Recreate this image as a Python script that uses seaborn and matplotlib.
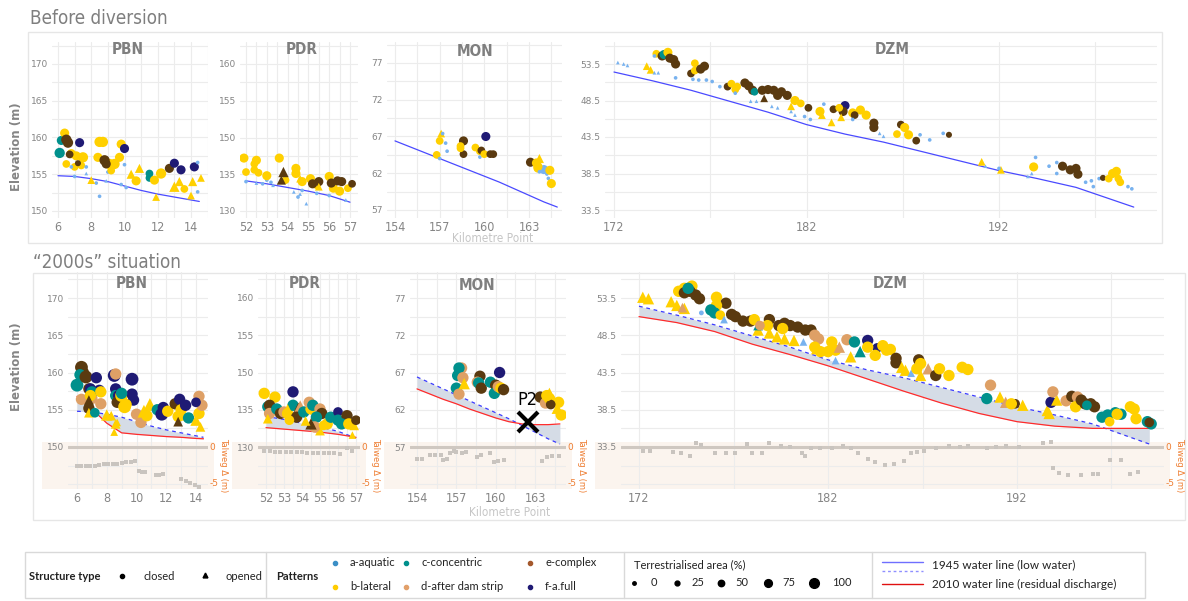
import matplotlib
matplotlib.use("Agg")
import matplotlib.pyplot as plt
import seaborn as sns
import pandas as pd
from matplotlib.ticker import MultipleLocator, FixedLocator
from matplotlib.patches import Rectangle

# -------------------------------
# DATA
# point = (kilometre point, elevation, code)  code = pattern letter, c/o structure, area class 0..4
# -------------------------------
pbn_before = [(6.1, 157.9, "cc4"), (6.2, 159.6, "cc3"), (6.4, 160.6, "bc3"), (6.5, 159.7, "ec4"), (6.6, 159.3, "ec4"),
              (7.3, 159.3, "fc3"), (6.8, 157.8, "bc3"), (7.1, 157.5, "bc3"), (7.5, 157.3, "bc4"), (6.5, 156.4, "bc2"),
              (7.4, 156.2, "bc2"), (7.0, 156.0, "bc2"), (6.7, 157.7, "ec2"), (7.2, 156.5, "ec1"), (6.8, 156.0, "ac0"),
              (7.0, 154.7, "ac0"), (7.7, 155.1, "ao0"), (8.3, 153.8, "ac0"), (8.5, 152.0, "ac0"), (7.7, 156.0, "ac0"),
              (8.9, 154.1, "ao0"), (9.0, 155.3, "ac0"), (8.5, 159.4, "bc4"), (8.7, 159.4, "bc4"), (8.4, 157.3, "bc3"),
              (9.1, 156.4, "bc4"), (9.4, 156.4, "bc4"), (9.7, 157.3, "bc3"), (9.2, 155.5, "bc2"), (8.8, 156.9, "ec4"),
              (8.9, 156.4, "ec3"), (9.8, 159.1, "bc3"), (10.0, 158.5, "fc3"), (10.9, 155.8, "bo3"), (10.4, 155.0, "bo3"),
              (10.7, 154.1, "bc3"), (8.0, 154.2, "bo2"), (11.5, 155.1, "cc2"), (11.5, 154.5, "cc2"), (11.8, 154.2, "bc3"),
              (12.2, 155.1, "bc4"), (11.9, 151.9, "bo2"), (12.7, 155.8, "ec3"), (13.0, 156.5, "fc3"), (13.4, 155.6, "fc3"),
              (14.2, 156.0, "fc3"), (13.0, 153.3, "bo4"), (13.3, 154.0, "bo3"), (14.0, 152.1, "bo2"), (14.1, 154.0, "bo3"),
              (14.6, 154.5, "bo2"), (13.6, 153.0, "bc2"), (14.4, 156.6, "ac0"), (14.4, 152.6, "ac0"), (10.0, 156.3, "ac0"),
              (10.1, 153.2, "ac0"), (9.8, 153.6, "ac0")]

pdr_before = [(51.9, 137.2, "bc3"), (52.0, 135.3, "bc2"), (52.4, 135.6, "bc2"), (52.5, 136.9, "bc3"), (52.4, 136.4, "bc2"),
              (52.6, 135.2, "bc2"), (52.0, 134.0, "ac0"), (52.5, 133.8, "ao0"), (52.8, 133.7, "ac0"), (53.0, 134.2, "ac0"),
              (53.3, 133.5, "ao0"), (53.9, 134.0, "ac0"), (54.3, 132.6, "ao0"), (54.5, 131.9, "ac0"), (54.9, 131.0, "ao0"),
              (54.7, 132.8, "ac0"), (55.4, 132.4, "ac0"), (56.0, 132.1, "ac0"), (56.8, 131.5, "ao0"), (53.2, 133.9, "ac0"),
              (54.6, 132.3, "ao0"), (53.0, 134.8, "bc3"), (53.6, 137.2, "bc3"), (53.9, 134.2, "bc2"), (54.4, 135.8, "bc3"),
              (54.4, 135.1, "bc3"), (54.7, 134.0, "bc3"), (55.1, 134.4, "bc3"), (55.4, 133.5, "bc2"), (56.0, 134.7, "bc3"),
              (56.2, 133.1, "bc3"), (56.5, 132.7, "bc3"), (56.9, 133.1, "bc2"), (53.8, 135.3, "eo4"), (53.7, 134.2, "eo3"),
              (55.2, 133.7, "ec3"), (55.5, 134.0, "ec3"), (56.1, 133.8, "ec3"), (56.4, 134.1, "ec3"), (56.6, 134.0, "ec3"),
              (57.1, 133.7, "ec2"), (54.6, 134.4, "bo2"), (55.5, 133.3, "bo2")]

mon_before = [(156.8, 64.5, "bc2"), (157.0, 66.4, "bc2"), (157.1, 67.4, "bo2"), (157.2, 67.4, "ac0"), (157.4, 66.1, "ac0"),
              (157.5, 65.0, "ac0"), (157.0, 64.0, "ac0"), (158.6, 66.4, "ec3"), (158.6, 64.6, "ec2"), (158.4, 65.7, "bc2"),
              (158.4, 65.4, "bc2"), (159.4, 65.5, "bc2"), (159.7, 65.0, "bc2"), (159.8, 65.1, "ec2"), (159.7, 64.2, "ac0"),
              (160.0, 64.6, "bc2"), (160.4, 64.6, "ec2"), (160.6, 64.6, "ec2"), (160.1, 67.0, "fc3"), (163.1, 63.5, "ec3"),
              (163.5, 63.4, "bc3"), (163.7, 64.0, "bo3"), (163.6, 62.7, "bc3"), (164.0, 62.5, "ac3"), (164.2, 61.9, "ac0"),
              (164.3, 61.3, "ac0"), (164.4, 62.4, "bc3"), (164.5, 60.6, "bc3"), (163.6, 62.9, "bc3"), (163.7, 62.2, "ac0")]

dzm_before = [(172.2, 53.7, "ao0"), (172.5, 53.5, "ao0"), (172.7, 53.3, "ao0"), (173.7, 53.2, "bo2"), (173.9, 52.7, "bo2"),
              (174.1, 52.3, "ao0"), (174.3, 52.3, "ao0"), (174.2, 54.9, "bc2"), (174.5, 54.6, "ec3"), (174.6, 54.8, "cc3"),
              (174.8, 55.1, "bc3"), (174.9, 54.3, "ec3"), (175.1, 54.1, "ec3"), (175.2, 53.5, "ec3"), (174.1, 54.6, "ac0"),
              (175.2, 51.6, "ac0"), (176.0, 52.2, "ec2"), (176.2, 53.6, "bc2"), (176.2, 52.6, "bc2"), (176.5, 52.8, "ec3"),
              (176.7, 53.2, "ec3"), (176.1, 51.4, "ac0"), (176.4, 51.3, "ac0"), (176.8, 51.3, "ac0"), (177.1, 51.1, "ac0"),
              (177.5, 50.4, "ac0"), (177.9, 50.4, "ec2"), (178.1, 50.8, "bc2"), (178.3, 50.0, "bc2"), (178.3, 49.5, "ac0"),
              (178.4, 50.4, "bc2"), (178.8, 50.9, "ec3"), (179.0, 50.5, "ec3"), (179.2, 49.9, "ec3"), (179.3, 49.7, "cc2"),
              (179.7, 49.9, "ec3"), (180.0, 50.0, "ec3"), (180.3, 49.9, "ec3"), (180.5, 49.2, "ec3"), (180.7, 49.7, "ec3"),
              (181.0, 49.2, "ec3"), (179.8, 48.8, "eo2"), (179.1, 48.4, "ao0"), (179.4, 48.4, "ao0"), (180.2, 47.7, "ao0"),
              (180.5, 47.5, "ao0"), (181.4, 48.5, "bc3"), (181.7, 48.1, "bc2"), (181.2, 47.7, "bo2"), (181.2, 47.0, "ao0"),
              (181.4, 46.5, "ao0"), (181.9, 46.3, "ac0"), (182.2, 45.9, "ac0"), (182.1, 47.5, "ec2"), (182.7, 47.0, "bc3"),
              (182.8, 46.5, "bo2"), (182.9, 48.0, "ac0"), (183.4, 47.3, "ec2"), (184.0, 47.8, "fc3"), (183.9, 47.0, "ec3"),
              (183.7, 47.5, "bc2"), (183.3, 45.5, "bo2"), (183.8, 46.2, "bo2"), (184.4, 46.8, "bc3"), (184.8, 47.2, "bc3"),
              (185.1, 46.5, "bc3"), (184.5, 46.5, "ec2"), (184.4, 45.9, "ac0"), (185.5, 45.4, "ec3"), (185.5, 44.8, "ec3"),
              (185.8, 44.0, "ao0"), (186.0, 43.6, "ao0"), (186.9, 45.2, "ec2"), (187.1, 44.8, "bc3"), (187.3, 43.8, "bc3"),
              (186.7, 43.9, "bc2"), (187.7, 43.0, "ec2"), (187.9, 43.8, "ac0"), (188.4, 43.1, "ac0"), (189.1, 44.0, "ac0"),
              (189.4, 43.8, "ec1"), (191.1, 40.1, "bo2"), (191.3, 39.5, "ao0"), (192.1, 39.0, "bo2"), (192.0, 39.2, "ac0"),
              (193.5, 38.1, "ao0"), (193.7, 38.5, "ao0"), (193.8, 39.4, "bc3"), (193.9, 40.7, "ac0"), (194.6, 39.5, "ac0"),
              (195.0, 40.0, "ac0"), (195.3, 39.8, "ac0"), (195.0, 38.5, "ac0"), (195.3, 39.5, "ec3"), (195.7, 39.0, "ec3"),
              (196.0, 39.2, "ec3"), (196.1, 38.4, "ec3"), (196.5, 37.3, "ac0"), (196.8, 37.5, "ac0"), (196.9, 36.7, "ac0"),
              (197.2, 37.8, "ac0"), (197.4, 37.9, "ec1"), (197.7, 37.8, "bc2"), (197.9, 38.5, "bc3"), (198.1, 38.8, "bc3"),
              (198.2, 37.8, "bc2"), (198.3, 37.3, "bc2"), (198.7, 36.7, "ac0"), (198.9, 36.4, "ac0")]

pbn_after = [(6.0, 158.3, "cc4"), (6.3, 160.7, "ec4"), (6.4, 159.9, "ec4"), (6.2, 159.7, "cc3"), (6.6, 159.4, "ec4"),
             (6.3, 156.4, "dc3"), (7.0, 156.5, "dc3"), (6.8, 157.8, "ec3"), (6.8, 155.2, "ec3"), (7.3, 159.3, "fc3"),
             (6.9, 157.8, "fc3"), (7.5, 157.6, "fc3"), (7.0, 157.4, "cc3"), (7.6, 157.4, "bc3"), (6.9, 156.9, "bc3"),
             (7.6, 155.8, "dc3"), (6.8, 156.3, "eo2"), (6.8, 154.6, "bo2"), (8.0, 154.3, "bo3"), (8.6, 153.1, "bo2"),
             (8.5, 152.0, "bo1"), (8.5, 159.6, "fc4"), (8.6, 157.8, "fc3"), (8.6, 159.8, "dc3"), (8.6, 156.9, "cc3"),
             (8.8, 156.9, "fc3"), (8.7, 156.0, "ec3"), (9.0, 156.9, "bc4"), (9.2, 155.4, "bc4"), (9.7, 159.1, "fc4"),
             (9.7, 157.1, "fc3"), (9.8, 156.3, "fc3"), (9.3, 155.7, "bc3"), (9.0, 157.2, "cc3"), (10.0, 154.4, "dc3"),
             (10.3, 153.3, "dc3"), (10.5, 154.8, "bo4"), (10.9, 155.7, "bo4"), (10.7, 154.2, "bc3"), (11.4, 155.0, "cc3"),
             (11.7, 154.4, "fc4"), (11.8, 155.3, "fc3"), (12.1, 154.8, "bc3"), (12.6, 155.8, "ec3"), (12.9, 156.4, "fc3"),
             (13.0, 155.0, "bc3"), (13.1, 154.3, "bo3"), (13.3, 155.6, "fc3"), (12.8, 154.1, "bc3"), (12.8, 153.4, "eo2"),
             (13.5, 153.9, "cc3"), (14.0, 153.6, "bo3"), (14.2, 154.5, "bc3"), (14.2, 156.8, "dc3"), (14.4, 155.6, "dc3"),
             (14.0, 156.0, "fc2"), (14.3, 152.7, "bo2"), (8.3, 154.2, "bo2"), (8.7, 153.3, "bo1"), (7.2, 154.6, "cc2")]

pdr_after = [(51.9, 137.2, "bc3"), (52.5, 136.7, "bc3"), (52.1, 135.4, "cc3"), (52.2, 135.6, "ec3"), (52.2, 134.5, "dc3"),
             (52.1, 133.8, "bo2"), (52.6, 135.1, "cc3"), (52.8, 134.5, "ec3"), (53.0, 134.7, "dc3"), (53.2, 134.5, "bc3"),
             (53.5, 137.4, "fc3"), (53.5, 135.6, "cc3"), (53.2, 135.0, "bo3"), (53.8, 135.1, "eo4"), (53.9, 135.4, "do4"),
             (53.7, 134.0, "ec3"), (54.1, 134.7, "cc3"), (54.5, 135.1, "bc3"), (54.4, 136.0, "dc3"), (54.6, 135.6, "cc3"),
             (55.0, 135.1, "dc3"), (55.1, 134.5, "ec3"), (54.8, 134.0, "cc3"), (55.4, 133.1, "bc3"), (55.0, 132.2, "bo2"),
             (55.6, 134.0, "cc3"), (56.0, 134.7, "fc2"), (56.0, 133.6, "cc3"), (56.5, 134.2, "ec3"), (56.2, 133.1, "cc3"),
             (56.6, 133.1, "bc3"), (56.9, 132.9, "bo2"), (57.0, 133.6, "ec2"), (56.8, 131.6, "bo1"), (54.7, 132.7, "dc3"),
             (54.5, 133.1, "eo3"), (53.3, 133.6, "bc2"), (55.2, 132.9, "bc2"), (54.2, 133.5, "bo2")]

mon_after = [(157.0, 64.9, "cc3"), (157.2, 64.1, "dc3"), (157.1, 66.6, "cc3"), (157.4, 67.6, "dc3"), (157.2, 67.6, "cc3"),
             (157.5, 66.3, "dc3"), (157.6, 65.5, "bo3"), (158.8, 66.5, "ec3"), (158.6, 65.7, "dc3"), (158.7, 65.6, "cc3"),
             (158.9, 64.9, "ec3"), (160.3, 67.0, "fc3"), (159.6, 65.7, "cc3"), (160.0, 65.3, "ec3"), (159.9, 64.2, "cc3"),
             (160.2, 65.1, "dc3"), (160.4, 64.9, "bc3"), (160.6, 64.7, "ec3"), (163.4, 63.7, "ec3"), (164.1, 64.2, "bo3"),
             (163.8, 62.9, "dc3"), (164.1, 63.5, "bc3"), (164.4, 63.3, "bo3"), (164.8, 63.0, "bc3"), (164.2, 62.7, "ec2"),
             (165.0, 61.3, "bc3"), (164.7, 62.2, "bo3"), (163.9, 63.9, "bc3")]

dzm_after = [(172.2, 53.6, "bo3"), (172.5, 53.4, "bo3"), (173.7, 53.0, "bo3"), (174.0, 52.5, "bo3"), (174.4, 52.1, "bo3"),
             (174.3, 52.2, "do2"), (174.1, 54.4, "bc3"), (174.4, 54.8, "bc3"), (174.8, 55.1, "bc3"), (174.4, 54.2, "ec3"),
             (174.7, 54.4, "ec3"), (175.0, 53.9, "ec3"), (175.2, 53.4, "ec3"), (174.6, 54.8, "cc3"), (176.1, 53.6, "bc3"),
             (176.6, 52.8, "ec3"), (176.1, 52.5, "bc3"), (175.8, 51.9, "cc3"), (176.0, 51.5, "cc3"), (176.3, 51.2, "bc2"),
             (176.9, 51.3, "ec3"), (177.1, 51.0, "ec3"), (176.5, 50.6, "ao1"), (175.3, 51.5, "ac0"), (177.5, 50.4, "ec3"),
             (177.9, 50.4, "ec3"), (178.1, 50.6, "bc3"), (178.3, 49.2, "bo3"), (178.3, 49.8, "co2"), (178.9, 50.6, "ec3"),
             (178.8, 49.8, "bc3"), (178.4, 49.8, "dc2"), (178.9, 48.8, "bo3"), (179.3, 48.3, "bo3"), (179.4, 49.8, "ec3"),
             (179.7, 50.1, "ec3"), (180.0, 49.8, "ec3"), (180.4, 49.6, "ec3"), (180.8, 49.2, "ec3"), (181.1, 49.2, "ec3"),
             (179.6, 49.4, "bc3"), (179.7, 48.0, "bo3"), (180.2, 47.8, "bo3"), (180.7, 47.6, "ao1"), (181.3, 48.5, "dc3"),
             (181.5, 48.0, "dc3"), (181.3, 46.9, "bc3"), (181.4, 46.7, "bo3"), (181.6, 46.3, "bc3"), (182.0, 46.3, "bc3"),
             (182.2, 47.6, "bc3"), (182.4, 46.5, "bc3"), (183.0, 47.9, "dc3"), (182.6, 46.9, "do3"), (182.4, 45.1, "ao1"),
             (183.4, 47.6, "cc3"), (184.1, 47.8, "fc3"), (183.7, 46.3, "co3"), (183.2, 45.6, "bo3"), (184.6, 46.8, "fc2"),
             (184.1, 46.9, "bc3"), (184.5, 45.8, "bc3"), (185.1, 46.5, "bc3"), (185.3, 46.6, "bc3"), (184.9, 47.1, "bc3"),
             (185.6, 45.4, "ec3"), (185.6, 44.8, "ec3"), (185.9, 44.2, "bo3"), (186.1, 43.8, "bo3"), (186.4, 43.4, "ao1"),
             (186.8, 45.2, "ec3"), (186.9, 44.7, "bc3"), (186.7, 44.0, "bc3"), (187.3, 44.0, "do3"), (186.9, 43.1, "bo3"),
             (187.7, 43.1, "ec3"), (187.9, 44.0, "bc3"), (188.4, 43.1, "bc3"), (189.1, 44.2, "bc3"), (189.4, 43.9, "bc3"),
             (190.6, 41.8, "dc3"), (190.4, 40.0, "cc3"), (191.1, 40.2, "bo3"), (191.4, 39.5, "do3"), (191.9, 39.3, "ec2"),
             (191.7, 39.3, "bc3"), (192.3, 39.1, "bo3"), (193.6, 38.4, "bo3"), (193.7, 38.0, "bo3"), (193.8, 39.5, "fc3"),
             (194.1, 39.8, "bo3"), (193.9, 40.9, "dc3"), (194.6, 39.7, "dc3"), (194.9, 40.3, "ec3"), (195.2, 40.2, "dc3"),
             (195.1, 38.9, "bc3"), (195.4, 39.8, "ec3"), (195.6, 39.3, "ec3"), (195.9, 39.3, "ec3"), (196.1, 38.9, "ec3"),
             (195.7, 39.1, "cc2"), (196.5, 37.5, "cc3"), (196.8, 37.8, "cc3"), (196.9, 36.9, "bc2"), (197.2, 38.1, "cc3"),
             (197.5, 37.9, "cc3"), (197.3, 37.9, "bc3"), (198.0, 38.9, "bc3"), (198.2, 38.6, "bc3"), (198.3, 37.3, "bc3"),
             (198.9, 36.9, "cc3"), (199.1, 36.6, "cc3"), (199.0, 36.8, "ec2")]

# water lines: 1945 low water and 2010 residual discharge
pbn_line_km = [6, 7, 8, 9, 10, 11, 12, 13, 14, 14.5]
pbn_1945 = [154.8, 154.7, 154.4, 154.0, 153.4, 152.8, 152.3, 151.9, 151.5, 151.3]
pbn_2010 = [156.8, 155.1, 153.2, 151.9, 151.7, 151.55, 151.4, 151.3, 151.15, 151.1]

pdr_line_km = [52, 53, 54, 55, 56, 57]
pdr_1945 = [134.1, 133.7, 133.2, 132.7, 132.1, 131.2]
pdr_2010 = [132.6, 132.4, 132.2, 132.0, 131.7, 131.3]

mon_line_km = [154, 155, 156, 157, 158, 159, 160, 161, 162, 163, 164, 164.9]
mon_1945 = [66.4, 65.6, 64.8, 64.0, 63.2, 62.4, 61.6, 60.8, 59.9, 59.0, 58.1, 57.4]
mon_2010 = [64.8, 64.1, 63.4, 62.8, 62.1, 61.5, 60.9, 60.4, 60.1, 60.0, 60.0, 60.1]

dzm_line_km = [172, 174, 176, 178, 180, 182, 184, 186, 188, 190, 192, 194, 196, 198, 199]
dzm_1945 = [52.4, 51.2, 49.9, 48.4, 46.9, 45.2, 43.9, 42.8, 41.5, 40.2, 38.9, 37.8, 36.6, 34.8, 33.9]
dzm_2010 = [51.0, 50.2, 49.0, 47.3, 45.9, 44.4, 42.7, 41.0, 39.4, 38.0, 36.9, 36.3, 36.0, 36.0, 36.0]

# talweg change (m)
pbn_tal_km = [6.0, 6.3, 6.6, 6.9, 7.2, 7.5, 7.8, 8.1, 8.4, 8.7, 9.0, 9.3, 9.6, 9.9, 10.2, 10.4, 10.6,
              11.3, 11.5, 11.8, 13.0, 13.3, 13.6, 13.9, 14.2]
pbn_tal_d = [-2.7, -2.7, -2.6, -2.6, -2.6, -2.5, -2.4, -2.4, -2.3, -2.3, -2.2, -2.1, -2.1, -2.0, -3.4, -3.5, -3.5,
             -3.9, -3.9, -3.8, -4.4, -4.7, -5.0, -5.3, -5.6]
pdr_tal_km = [51.9, 52.2, 52.5, 52.8, 53.1, 53.4, 53.7, 54.0, 54.3, 54.6, 54.9, 55.2, 55.5, 55.8, 56.1, 56.5, 56.8]
pdr_tal_d = [-0.6, -0.6, -0.7, -0.7, -0.7, -0.7, -0.7, -0.7, -0.8, -0.8, -0.8, -0.8, -0.9, -0.9, -1.0, -0.1, -0.5]
mon_tal_km = [154.0, 154.4, 155.0, 155.4, 155.8, 156.0, 156.3, 156.5, 156.8, 157.0, 157.4, 157.7, 158.6, 158.9,
              159.6, 159.9, 160.2, 160.6, 163.5, 163.9, 164.3, 164.8]
mon_tal_d = [-1.7, -1.6, -1.1, -1.1, -1.1, -1.8, -1.6, -0.9, -0.6, -0.7, -0.8, -0.7, -1.4, -1.1,
             -0.9, -2.1, -2.0, -1.8, -1.9, -1.4, -1.2, -1.3]
dzm_tal_km = [172.2, 172.6, 173.8, 174.2, 174.7, 175.0, 175.3, 176.0, 176.6, 177.1, 177.7, 178.0, 178.5, 178.9,
              179.5, 180.0, 180.6, 180.8, 181.1, 181.6, 182.2, 182.8, 183.2, 183.6, 184.1, 184.5, 185.0, 185.5,
              186.0, 186.4, 186.7, 187.1, 187.7, 188.4, 189.0, 189.4, 190.4, 190.9, 191.4, 192.1, 193.4, 193.8,
              193.9, 194.2, 194.7, 195.4, 196.0, 196.3, 196.9, 197.5, 198.0, 198.4]
dzm_tal_d = [-0.6, -0.6, -0.7, -0.8, -1.2, 0.5, 0.3, -0.9, -0.9, -0.8, 0.4, -0.9, -0.8, 0.6,
             0.1, 0.0, -0.8, -1.2, -0.2, -0.2, -0.1, 0.1, -0.2, -0.9, -1.6, -2.1, -2.5, -2.3,
             -1.9, -0.9, -0.7, -0.5, -0.2, 0.1, 0.0, 0.2, -0.2, 0.0, 0.2, 0.0, 0.6, 0.7,
             -2.9, -3.6, -3.9, -3.9, -3.8, -3.7, -1.8, -1.8, -3.7, -3.5]

# axis ticks per river section
pbn_xticks = [6, 8, 10, 12, 14]
pdr_xticks = [52, 53, 54, 55, 56, 57]
mon_xticks = [154, 157, 160, 163]
dzm_xticks = [172, 182, 192]
pbn_yticks = ["150", "155", "160", "165", "170"]
pdr_yticks = ["130", "135", "150", "155", "160"]
mon_yticks = ["57", "62", "67", "72", "77"]
dzm_yticks = ["33.5", "38.5", "43.5", "48.5", "53.5"]

pattern_names = {"a": "a-aquatic", "b": "b-lateral", "c": "c-concentric",
                 "d": "d-after dam strip", "e": "e-complex", "f": "f-a.full"}
palette = {"a-aquatic": "#78b2ef", "b-lateral": "#ffd000", "c-concentric": "#00908c",
           "d-after dam strip": "#dea066", "e-complex": "#5a3a10", "f-a.full": "#1f1a74"}
legend_colors = ["#3b8fc6", "#ffcc00", "#00908c", "#e2a06a", "#a4582c", "#1f1a74"]

GREY = "#858585"
W, H = 1188, 601

sns.set_theme(style="white")
plt.rcParams["font.family"] = ["DejaVu Sans"]
LEG = ["Lato", "DejaVu Sans"]

fig = plt.figure(figsize=(11.88, 6.01), dpi=100)

# background canvas in pixel coordinates (frames, bands, legend)
cv = fig.add_axes([0, 0, 1, 1], zorder=-5)
cv.set_xlim(0, W)
cv.set_ylim(H, 0)
cv.axis("off")


def ftext(x, y, s, **kw):
    # text placed in figure pixels, drawn above the panels
    fig.text(x / W, 1 - y / H, s, **kw)


def to_df(points):
    return pd.DataFrame({
        "km": [p[0] for p in points],
        "elev": [p[1] for p in points],
        "pattern": [pattern_names[p[2][0]] for p in points],
        "structure": ["closed" if p[2][1] == "c" else "opened" for p in points],
        "area": [25 * int(p[2][2]) for p in points],
    })


def make_ax(box, xt, yt):
    l, t, r, b = box
    ax = fig.add_axes([l / W, 1 - b / H, (r - l) / W, (b - t) / H])
    (v1, p1), (v2, p2) = xt
    k = (v2 - v1) / (p2 - p1)
    ax.set_xlim(v1 + (l - p1) * k, v1 + (r - p1) * k)
    (u1, q1), (u2, q2) = yt
    k = (u2 - u1) / (q2 - q1)
    ax.set_ylim(u1 + (b - q1) * k, u1 + (t - q1) * k)
    ax.patch.set_alpha(0)
    for s in ax.spines.values():
        s.set_visible(False)
    return ax


def panel(box, xt, yt, pts, line_km, y45, y10, xticks, ylabels, title, txy, sizes, after,
          tal_km=None, tal_d=None):
    ax = make_ax(box, xt, yt)
    step = xticks[1] - xticks[0]
    lo, hi = ax.get_xlim()
    ax.set_xticks(xticks)
    minors = []
    v = xticks[0] - step / 2
    while v >= lo:
        minors.append(v)
        v -= step / 2
    v = xticks[0] + step / 2
    while v <= hi:
        minors.append(v)
        v += step / 2
    ax.xaxis.set_minor_locator(FixedLocator(minors))
    y0 = yt[0][0]
    yticks = [y0 + 5 * i for i in range(len(ylabels))]
    ax.set_yticks(yticks)
    ax.set_yticklabels(ylabels)
    ax.yaxis.set_minor_locator(MultipleLocator(2.5, offset=y0 % 2.5))
    ax.grid(which="both", color="#ececec", lw=0.8)
    ax.set_axisbelow(True)
    ax.tick_params(axis="x", which="both", labelsize=9, labelcolor=GREY, length=0, pad=2)
    ax.tick_params(axis="y", which="both", labelsize=6.5, labelcolor=GREY, length=0, pad=3)
    for lab in ax.get_xticklabels():
        lab.set_fontstretch("condensed")
    if after:
        ax.fill_between(line_km, y45, y10, color="#d5dce6", lw=0, zorder=1)
        ax.plot(line_km, y45, color="#3a3aff", lw=0.9, ls=(0, (3, 3)), zorder=2)
        ax.plot(line_km, y10, color="#ff2b2b", lw=0.9, zorder=2)
    else:
        ax.plot(line_km, y45, color="#4a4aff", lw=0.9, zorder=2)
    sns.scatterplot(data=to_df(pts), x="km", y="elev", hue="pattern", style="structure", size="area",
                    palette=palette, markers={"closed": "o", "opened": "^"},
                    sizes=sizes, size_norm=(0, 100), linewidth=0, legend=False, ax=ax, zorder=3)
    ax.set_xlabel("")
    ax.set_ylabel("")
    ftext(txy[0], txy[1], title, ha="center", va="center", fontsize=11, fontweight="bold",
          color="#7f7f7f", fontstretch="condensed")
    if tal_km is not None:
        l, t, r, b = box
        ax2 = ax.twinx()
        k = 5 / (483 - 447)
        ax2.set_ylim(-(b - 447) * k, (447 - t) * k)
        ax2.axhline(0, color="#cfc8c1", lw=2.2, zorder=1)
        sns.scatterplot(x=tal_km, y=tal_d, ax=ax2, color="#c9c4bf", s=9, marker="s", linewidth=0)
        ax2.set_yticks([0, -5])
        ax2.set_yticklabels(["0", "-5"])
        ax2.tick_params(axis="y", which="both", labelsize=6.5, labelcolor="#ee7d31", length=0, pad=1)
        for s in ax2.spines.values():
            s.set_visible(False)
        ax2.grid(False)
        ax2.set_ylabel("Talweg Δ (m)", rotation=270, color="#ee7d31", fontsize=6, va="center")
        ax2.yaxis.set_label_coords((r + 16 - l) / (r - l), (b - 465) / (b - t))
        cv.add_patch(Rectangle((l - 26, 442), r - l + 32, 47, color="#fbf4ee", lw=0, zorder=0))
    return ax


# -------------------------------
# BEFORE DIVERSION
# -------------------------------
sz_top = (7, 55)
panel((52, 42, 208, 218), ((6, 58), (14, 191)), ((150, 211), (170, 64)), pbn_before,
      pbn_line_km, pbn_1945, None, pbn_xticks, pbn_yticks, "PBN", (128, 50), sz_top, False)
panel((240, 42, 358, 218), ((52, 246), (57, 350)), ((130, 211), (150, 64)), pdr_before,
      pdr_line_km, pdr_1945, None, pdr_xticks, pdr_yticks, "PDR", (302, 50), sz_top, False)
panel((387, 42, 562, 218), ((154, 395), (163, 529)), ((57, 210), (77, 63)), mon_before,
      mon_line_km, mon_1945, None, mon_xticks, mon_yticks, "MON", (475, 51), sz_top, False)
panel((605, 42, 1157, 218), ((172, 614), (192, 999)), ((33.5, 210), (53.5, 64)), dzm_before,
      dzm_line_km, dzm_1945, None, dzm_xticks, dzm_yticks, "DZM", (892, 50), sz_top, False)

# -------------------------------
# "2000s" SITUATION
# -------------------------------
sz_bot = (12, 85)
panel((68, 272, 208, 489), ((6, 77), (14, 196)), ((150, 447), (170, 298)), pbn_after,
      pbn_line_km, pbn_1945, pbn_2010, pbn_xticks, pbn_yticks, "PBN", (132, 283), sz_bot, True,
      pbn_tal_km, pbn_tal_d)
panel((258, 272, 360, 489), ((52, 266), (57, 356)), ((130, 447), (150, 298)), pdr_after,
      pdr_line_km, pdr_1945, pdr_2010, pdr_xticks, pdr_yticks, "PDR", (305, 283), sz_bot, True,
      pdr_tal_km, pdr_tal_d)
ax_mon = panel((410, 272, 566, 489), ((154, 417), (163, 535)), ((57, 447), (77, 298)), mon_after,
               mon_line_km, mon_1945, mon_2010, mon_xticks, mon_yticks, "MON", (477, 285), sz_bot, True,
               mon_tal_km, mon_tal_d)
panel((621, 272, 1164, 489), ((172, 639), (192, 1017)), ((33.5, 447), (53.5, 298)), dzm_after,
      dzm_line_km, dzm_1945, dzm_2010, dzm_xticks, dzm_yticks, "DZM", (890, 284), sz_bot, True,
      dzm_tal_km, dzm_tal_d)

# P2 marker on MON
ax_mon.plot([162.5], [60.4], marker="x", ms=15, mew=3, color="black", zorder=6)
ax_mon.text(162.4, 63.3, "P2", ha="center", va="center", fontsize=13, color="black", zorder=6,
            fontstretch="condensed")

# -------------------------------
# FRAMES AND HEADINGS
# -------------------------------
cv.add_patch(Rectangle((28, 32), 1134, 211, fill=False, ec="#e6e6e6", lw=1))
cv.add_patch(Rectangle((33, 273), 1152, 247, fill=False, ec="#e6e6e6", lw=1))
ftext(30, 19, "Before diversion", fontsize=13.5, color="#7f7f7f", va="center", fontstretch="condensed")
ftext(33, 262, "“2000s” situation", fontsize=13.5, color="#7f7f7f", va="center", fontstretch="condensed")
ftext(493, 238, "Kilometre Point", fontsize=8.5, color="#c6c6c6", ha="center", va="center", fontstretch="condensed")
ftext(510, 512, "Kilometre Point", fontsize=8.5, color="#c6c6c6", ha="center", va="center", fontstretch="condensed")
for yy in (147, 367):
    ftext(17, yy, "Elevation (m)", rotation=90, fontsize=8.5, fontweight="bold", color=GREY,
          ha="center", va="center")

# -------------------------------
# LEGEND
# -------------------------------
cv.add_patch(Rectangle((25, 552), 1120, 46, fill=False, ec="#d9d9d9", lw=1))
for xx in (266, 624, 872):
    cv.plot([xx, xx], [552, 598], color="#d9d9d9", lw=1)
fs = 8
ftext(29, 576, "Structure type", fontsize=fs, fontweight="bold", va="center", family=LEG, color="#222222")
cv.plot(122, 576, "o", ms=3, color="black")
ftext(143, 576, "closed", fontsize=fs, va="center", family=LEG, color="#222222")
cv.plot(205, 575, "^", ms=3.5, color="black")
ftext(226, 576, "opened", fontsize=fs, va="center", family=LEG, color="#222222")
ftext(276, 576, "Patterns", fontsize=fs, fontweight="bold", va="center", family=LEG, color="#222222")
leg_x = [335, 335, 406, 406, 530, 530]
leg_y = [563, 587, 563, 587, 563, 587]
for name, col, xx, yy in zip(pattern_names.values(), legend_colors, leg_x, leg_y):
    cv.plot(xx, yy, "o", ms=3, color=col)
    ftext(xx + 15, yy, name, fontsize=fs, va="center", family=LEG, color="#222222")
ftext(634, 565, "Terrestrialised area (%)", fontsize=fs, va="center", family=LEG, color="#222222")
for xx, ms, lab, lx in zip([634, 677, 721, 768, 814], [2.5, 3.5, 4.6, 5.6, 7.0],
                           ["0", "25", "50", "75", "100"], [654, 698, 742, 789, 842]):
    cv.plot(xx, 583, "o", ms=ms, color="black")
    ftext(lx, 583, lab, fontsize=fs, va="center", ha="center", family=LEG, color="#222222")
cv.plot([882, 923], [562, 562], color="#6f6fff", lw=1)
cv.plot([882, 923], [571, 571], color="#8f8fff", lw=1, ls=(0, (2, 2)))
cv.plot([882, 923], [584, 584], color="#e01010", lw=1)
ftext(932, 565, "1945 water line (low water)", fontsize=8.5, va="center", family=LEG, color="#222222")
ftext(932, 584, "2010 water line (residual discharge)", fontsize=8.5, va="center", family=LEG, color="#222222")

fig.savefig("out.png", dpi=100)
